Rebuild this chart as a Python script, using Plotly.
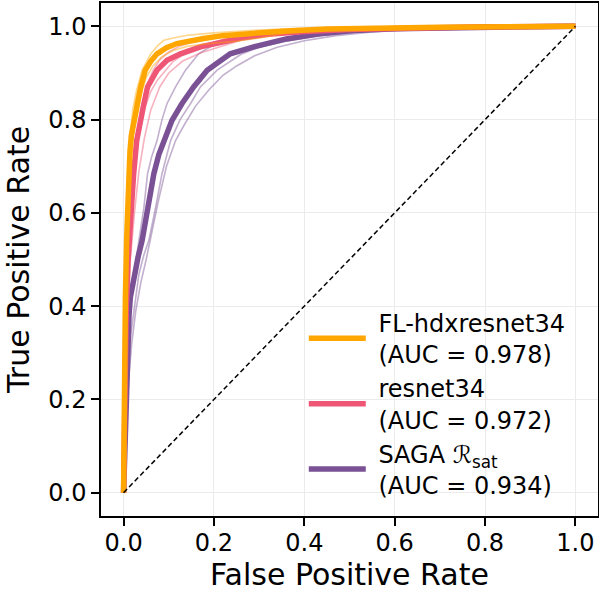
import plotly.graph_objects as go

# ---------------- data ----------------
NB = "\u00a0"
names = [NB + "FL-hdxresnet34<br>" + NB + "(AUC = 0.978)",
         NB + "resnet34<br>" + NB + "(AUC = 0.972)",
         NB + "SAGA ℛ<sub>sat</sub><br>" + NB + "(AUC = 0.934)"]
colors = ["#ffa600", "#ef5675", "#7a5195"]

# FL-hdxresnet34 mean ROC
fl_fpr = [0, 0.002, 0.004, 0.007, 0.010, 0.014, 0.017, 0.023, 0.030, 0.038, 0.048, 0.060, 0.074,
          0.095, 0.118, 0.145, 0.177, 0.22, 0.28, 0.36, 0.45, 0.55, 0.70, 0.85, 1.0]
fl_tpr = [0, 0.30, 0.42, 0.55, 0.65, 0.73, 0.765, 0.80, 0.834, 0.870, 0.906, 0.925, 0.941,
          0.954, 0.963, 0.969, 0.974, 0.980, 0.985, 0.990, 0.994, 0.996, 0.998, 0.999, 1.0]
# FL-hdxresnet34 folds
fl_f1_fpr = [0, 0.002, 0.004, 0.007, 0.010, 0.014, 0.020, 0.028, 0.041, 0.050, 0.060, 0.075,
             0.089, 0.110, 0.141, 0.20, 0.28, 0.38, 0.50, 0.70, 1.0]
fl_f1_tpr = [0, 0.35, 0.50, 0.62, 0.70, 0.76, 0.82, 0.86, 0.906, 0.922, 0.941, 0.958,
             0.970, 0.975, 0.981, 0.986, 0.991, 0.995, 0.997, 0.999, 1.0]
fl_f2_fpr = [0, 0.003, 0.006, 0.01, 0.015, 0.021, 0.028, 0.037, 0.05, 0.065, 0.085, 0.11, 0.14,
             0.19, 0.25, 0.30, 0.36, 0.45, 0.6, 0.8, 1.0]
fl_f2_tpr = [0, 0.28, 0.45, 0.58, 0.69, 0.76, 0.81, 0.85, 0.89, 0.915, 0.935, 0.948, 0.957,
             0.963, 0.968, 0.975, 0.985, 0.992, 0.996, 0.999, 1.0]
fl_f3_fpr = [0, 0.002, 0.005, 0.009, 0.014, 0.02, 0.027, 0.035, 0.046, 0.06, 0.08, 0.1, 0.13,
             0.17, 0.22, 0.3, 0.4, 0.55, 0.75, 1.0]
fl_f3_tpr = [0, 0.32, 0.5, 0.63, 0.73, 0.79, 0.84, 0.875, 0.905, 0.928, 0.946, 0.958, 0.967,
             0.975, 0.981, 0.987, 0.993, 0.997, 0.999, 1.0]

# resnet34 mean ROC
rn_fpr = [0, 0.003, 0.006, 0.010, 0.014, 0.017, 0.022, 0.029, 0.037, 0.045, 0.053, 0.074, 0.096,
          0.126, 0.17, 0.214, 0.26, 0.32, 0.40, 0.50, 0.65, 0.80, 1.0]
rn_tpr = [0, 0.25, 0.40, 0.50, 0.57, 0.61, 0.68, 0.755, 0.80, 0.834, 0.870, 0.906, 0.927,
          0.941, 0.956, 0.966, 0.975, 0.983, 0.989, 0.993, 0.997, 0.999, 1.0]
# resnet34 folds
rn_f1_fpr = [0, 0.004, 0.008, 0.014, 0.022, 0.032, 0.045, 0.06, 0.075, 0.093, 0.11, 0.13, 0.16,
             0.19, 0.22, 0.27, 0.33, 0.42, 0.55, 0.7, 1.0]
rn_f1_tpr = [0, 0.3, 0.45, 0.56, 0.66, 0.75, 0.82, 0.86, 0.885, 0.906, 0.925, 0.938, 0.95,
             0.962, 0.972, 0.98, 0.986, 0.991, 0.995, 0.998, 1.0]
rn_f2_fpr = [0, 0.003, 0.007, 0.012, 0.02, 0.028, 0.038, 0.05, 0.065, 0.08, 0.1, 0.125, 0.155,
             0.19, 0.24, 0.3, 0.4, 0.55, 0.75, 1.0]
rn_f2_tpr = [0, 0.3, 0.48, 0.6, 0.69, 0.76, 0.82, 0.87, 0.905, 0.928, 0.945, 0.958, 0.968,
             0.976, 0.983, 0.988, 0.993, 0.997, 0.999, 1.0]
rn_f3_fpr = [0, 0.004, 0.009, 0.015, 0.024, 0.034, 0.046, 0.06, 0.08, 0.1, 0.13, 0.17, 0.21,
             0.26, 0.32, 0.4, 0.5, 0.65, 0.8, 1.0]
rn_f3_tpr = [0, 0.22, 0.38, 0.5, 0.6, 0.69, 0.76, 0.82, 0.87, 0.9, 0.925, 0.943, 0.955,
             0.97, 0.981, 0.988, 0.993, 0.997, 0.999, 1.0]

# SAGA mean ROC
sg_fpr = [0, 0.003, 0.005, 0.007, 0.009, 0.012, 0.015, 0.024, 0.032, 0.041, 0.054, 0.067, 0.078,
          0.089, 0.107, 0.129, 0.155, 0.185, 0.214, 0.236, 0.288, 0.36, 0.435, 0.51, 0.60, 0.70,
          0.80, 0.90, 1.0]
sg_tpr = [0, 0.10, 0.18, 0.26, 0.33, 0.38, 0.419, 0.469, 0.505, 0.541, 0.612, 0.684, 0.725,
          0.755, 0.798, 0.834, 0.870, 0.906, 0.927, 0.941, 0.956, 0.973, 0.984, 0.991, 0.995, 0.997,
          0.998, 0.999, 1.0]
# SAGA folds
sg_f1_fpr = [0, 0.004, 0.008, 0.013, 0.018, 0.023, 0.034, 0.045, 0.053, 0.062, 0.074, 0.085,
             0.096, 0.115, 0.137, 0.166, 0.192, 0.221, 0.26, 0.31, 0.38, 0.47, 0.60, 0.75, 1.0]
sg_f1_tpr = [0, 0.18, 0.30, 0.38, 0.43, 0.469, 0.541, 0.612, 0.684, 0.72, 0.755, 0.80,
             0.834, 0.870, 0.906, 0.941, 0.956, 0.966, 0.976, 0.984, 0.990, 0.994, 0.997, 0.999, 1.0]
sg_f2_fpr = [0, 0.005, 0.010, 0.016, 0.024, 0.034, 0.045, 0.056, 0.071, 0.085, 0.104, 0.125,
             0.148, 0.17, 0.207, 0.229, 0.26, 0.30, 0.36, 0.42, 0.50, 0.60, 0.75, 1.0]
sg_f2_tpr = [0, 0.15, 0.26, 0.34, 0.40, 0.469, 0.51, 0.541, 0.612, 0.684, 0.755, 0.80,
             0.834, 0.870, 0.906, 0.92, 0.94, 0.955, 0.968, 0.978, 0.987, 0.993, 0.998, 1.0]
sg_f3_fpr = [0, 0.005, 0.011, 0.018, 0.027, 0.038, 0.05, 0.063, 0.078, 0.095, 0.115, 0.135,
             0.16, 0.19, 0.22, 0.25, 0.29, 0.34, 0.40, 0.47, 0.55, 0.65, 0.8, 1.0]
sg_f3_tpr = [0, 0.13, 0.24, 0.32, 0.39, 0.45, 0.50, 0.56, 0.63, 0.70, 0.755, 0.79,
             0.83, 0.865, 0.895, 0.915, 0.937, 0.955, 0.969, 0.98, 0.988, 0.994, 0.998, 1.0]

chance = [0, 1]

ticks = [0.0, 0.2, 0.4, 0.6, 0.8, 1.0]

# ---------------- figure ----------------
FONT = "DejaVu Sans"
fig = go.Figure()

models = [
    (2, sg_fpr, sg_tpr, [(sg_f1_fpr, sg_f1_tpr), (sg_f2_fpr, sg_f2_tpr), (sg_f3_fpr, sg_f3_tpr)]),
    (1, rn_fpr, rn_tpr, [(rn_f1_fpr, rn_f1_tpr), (rn_f2_fpr, rn_f2_tpr), (rn_f3_fpr, rn_f3_tpr)]),
    (0, fl_fpr, fl_tpr, [(fl_f1_fpr, fl_f1_tpr), (fl_f2_fpr, fl_f2_tpr), (fl_f3_fpr, fl_f3_tpr)]),
]

for idx, mf, mt, folds in models:
    for ff, ft in folds:
        fig.add_trace(go.Scatter(x=ff, y=ft, mode="lines", showlegend=False,
                                 line=dict(color=colors[idx], width=1.6), opacity=0.45,
                                 hoverinfo="skip"))
    fig.add_trace(go.Scatter(x=mf, y=mt, mode="lines", name=names[idx],
                             legendrank=idx + 1, legendgroup=str(idx),
                             line=dict(color=colors[idx], width=5.5)))

fig.add_trace(go.Scatter(x=chance, y=chance, mode="lines", showlegend=False,
                         line=dict(color="black", width=1.5, dash="5px,3px")))

axis_common = dict(
    tickvals=ticks, tickformat=".1f", range=[-0.05, 1.05], automargin=False,
    showgrid=True, gridcolor="#ebebeb", gridwidth=1,
    zeroline=False, showline=True, linecolor="black", linewidth=1.5,
    mirror=True, ticks="outside", ticklen=8, tickwidth=1.5, tickcolor="black",
    tickfont=dict(family=FONT, size=24, color="black"),
)

fig.update_layout(
    width=599, height=592,
    margin=dict(l=101, r=1, t=3, b=76),
    paper_bgcolor="white", plot_bgcolor="white",
    font=dict(family=FONT, color="black"),
    xaxis=dict(axis_common, ticklabelstandoff=-4,
               title=dict(text="False Positive Rate",
                          font=dict(family=FONT, size=30), standoff=10)),
    yaxis=dict(axis_common, title=dict(text="True Positive Rate",
                                       font=dict(family=FONT, size=30), standoff=10)),
    legend=dict(x=0.408, y=0.42, xanchor="left", yanchor="top",
                bgcolor="rgba(0,0,0,0)", borderwidth=0,
                font=dict(family=FONT, size=24, color="black"),
                itemwidth=57, tracegroupgap=0),
    showlegend=True,
)

fig.write_html("out.html", config={"displayModeBar": False},
               post_script="document.body.style.margin='0';")
